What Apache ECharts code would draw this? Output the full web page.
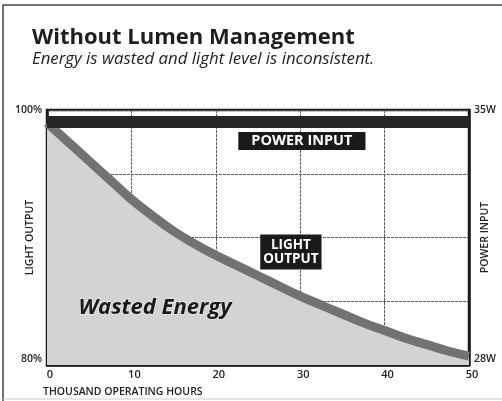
<!DOCTYPE html>
<html>
<head>
<meta charset="utf-8">
<script src="https://cdn.jsdelivr.net/npm/echarts@6/dist/echarts.min.js"></script>
<style>
  html, body { margin: 0; padding: 0; background: #fff; overflow: hidden; }
  #chart { width: 502px; height: 401px; }
</style>
</head>
<body>
<div id="chart"></div>
<script>
// Lamp light output (%) over thousands of operating hours
const hours = [0, 2.5, 5, 7.5, 10, 12.5, 15, 17.5, 20, 22.5, 25, 27.5, 30, 32.5, 35, 37.5, 40, 42.5, 45, 47.5, 50];
const lightOutput = [99.0, 97.5, 96.0, 94.5, 93.0, 91.7, 90.5, 89.5, 88.6, 87.8, 87.0, 86.2, 85.4, 84.7, 84.0, 83.3, 82.7, 82.1, 81.6, 81.1, 80.7];

// Power input (W), constant over lamp life
const powerHours = [0, 50];
const powerInput = [34.67, 34.67];

// Axis ticks
const xTicks = [0, 10, 20, 30, 40, 50];
const lightTickLabels = { 80: '80%', 100: '100%' };
const powerTickLabels = { 28: '28W', 35: '35W' };

const FONT = '"Open Sans", "Noto Sans", sans-serif';
const chart = echarts.init(document.getElementById('chart'), null, { renderer: 'canvas' });

const lightData = hours.map((h, i) => [h, lightOutput[i]]);
const powerData = powerHours.map((h, i) => [h, powerInput[i]]);

const boxLabel = {
  show: true,
  position: 'inside',
  color: '#fff',
  fontFamily: FONT,
  fontWeight: 'bold',
  backgroundColor: '#1a1a1a'
};

chart.setOption({
  animation: false,
  backgroundColor: '#ffffff',
  title: [
    {
      text: 'Without Lumen Management',
      left: 27, top: 22,
      textStyle: { fontFamily: FONT, fontSize: 22, fontWeight: 'bold', color: '#1e1e1e' }
    },
    {
      text: 'Energy is wasted and light level is inconsistent.',
      left: 27, top: 46,
      textStyle: { fontFamily: FONT, fontSize: 16.8, fontStyle: 'italic', fontWeight: 'normal', color: '#222' }
    }
  ],
  graphic: [
    // page frame: left and top edges, faint bottom rule
    { type: 'polyline', shape: { points: [[3, 410], [3, 5], [515, 5]] }, style: { stroke: '#444', lineWidth: 1.5, fill: null } },
    { type: 'line', shape: { x1: 3, y1: 399, x2: 515, y2: 399 }, style: { stroke: '#ccc', lineWidth: 1 } }
  ],
  grid: {
    left: 47, right: 33, top: 110, bottom: 36,
    show: true, borderColor: '#1a1a1a', borderWidth: 2.5, backgroundColor: 'transparent',
    containLabel: false, outerBoundsMode: 'none'
  },
  xAxis: {
    type: 'value', min: 0, max: 50, interval: 10,
    name: 'THOUSAND OPERATING HOURS',
    nameLocation: 'start', nameGap: 4, nameMoveOverlap: false,
    nameTextStyle: { fontFamily: FONT, fontSize: 10.5, fontWeight: 600, color: '#222', align: 'left', verticalAlign: 'top', padding: [22, 0, 0, 0] },
    axisLine: { show: true, lineStyle: { color: '#1a1a1a', width: 2.5 } },
    axisTick: { show: false },
    axisLabel: {
      fontFamily: FONT, fontSize: 11, fontWeight: 600, color: '#222', margin: 4,
      padding: [0, 0, 0, 6],
      formatter: v => xTicks.includes(v) ? String(v) : ''
    },
    splitLine: { show: true, lineStyle: { color: '#5a5a5a', width: 1, type: [3, 1] } }
  },
  yAxis: [
    {
      type: 'value', min: 80, max: 100, interval: 5,
      name: 'LIGHT OUTPUT', nameLocation: 'middle', nameGap: 11, nameRotate: 90, nameMoveOverlap: false,
      nameTextStyle: { fontFamily: FONT, fontSize: 10.5, fontWeight: 600, color: '#222' },
      axisLine: { show: true, lineStyle: { color: '#1a1a1a', width: 2.5 } },
      axisTick: { show: false },
      axisLabel: {
        fontFamily: FONT, fontSize: 10.5, fontWeight: 600, color: '#222', margin: 5,
        verticalAlignMinLabel: 'bottom',
        formatter: v => lightTickLabels[v] || ''
      },
      splitLine: { show: true, lineStyle: { color: '#5a5a5a', width: 1, type: [3, 1] } }
    },
    {
      type: 'value', min: 28, max: 35, interval: 7, position: 'right',
      name: 'POWER INPUT', nameLocation: 'middle', nameGap: 11, nameRotate: 90, nameMoveOverlap: false,
      nameTextStyle: { fontFamily: FONT, fontSize: 10.5, fontWeight: 600, color: '#222' },
      axisLine: { show: true, lineStyle: { color: '#1a1a1a', width: 2.5 } },
      axisTick: { show: false },
      axisLabel: {
        fontFamily: FONT, fontSize: 10.5, fontWeight: 600, color: '#222', margin: 5,
        verticalAlignMinLabel: 'bottom',
        formatter: v => powerTickLabels[v] || ''
      },
      splitLine: { show: false }
    }
  ],
  series: [
    {
      name: 'Light Output',
      type: 'line',
      yAxisIndex: 0,
      data: lightData,
      smooth: 0.5,
      showSymbol: false,
      lineStyle: { color: '#727272', width: 9 },
      areaStyle: { color: '#d3d3d3', opacity: 1 },
      z: 2,
      markPoint: {
        symbol: 'rect', symbolSize: 0,
        data: [
          {
            coord: [28.9, 88.86],
            label: Object.assign({}, boxLabel, {
              formatter: 'LIGHT\nOUTPUT', fontSize: 13.5, lineHeight: 14, align: 'center',
              padding: [4, 3, 3, 3]
            })
          },
          {
            coord: [12.8, 84.47],
            label: {
              show: true, position: 'inside', formatter: 'Wasted Energy',
              fontFamily: FONT, fontSize: 22, fontWeight: 'bold', fontStyle: 'italic',
              color: '#1a1a1a', textBorderColor: '#e8e8e8', textBorderWidth: 1.5
            }
          }
        ]
      }
    },
    {
      name: 'Power Input',
      type: 'line',
      yAxisIndex: 1,
      data: powerData,
      showSymbol: false,
      lineStyle: { color: '#262626', width: 12, cap: 'butt' },
      z: 3,
      markPoint: {
        symbol: 'rect', symbolSize: 0,
        data: [
          {
            coord: [30.2, 34.15],
            label: Object.assign({}, boxLabel, {
              formatter: 'POWER INPUT', fontSize: 14.5, padding: [2, 13, 1, 13]
            })
          }
        ]
      }
    }
  ]
});
</script>
</body>
</html>
